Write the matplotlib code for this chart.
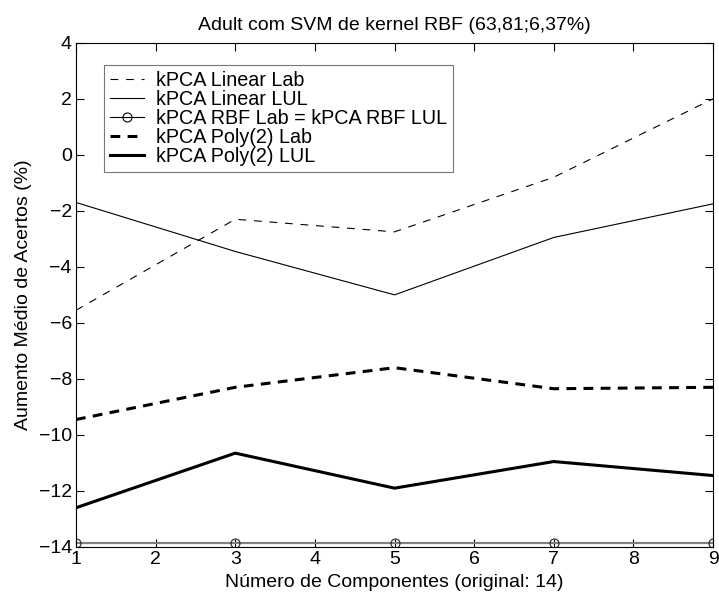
import numpy as np
import matplotlib
matplotlib.use('Agg')
import matplotlib.pyplot as plt
from matplotlib.lines import Line2D

plt.rcParams['font.family'] = ['Liberation Sans', 'DejaVu Sans']

# dados
comps = [1, 3, 5, 7, 9]
linear_lab = [-5.55, -2.3, -2.75, -0.8, 2.0]
linear_lul = [-1.7, -3.45, -5.0, -2.95, -1.75]
rbf = [-13.85, -13.85, -13.85, -13.85, -13.85]
poly_lab = [-9.45, -8.3, -7.6, -8.35, -8.3]
poly_lul = [-12.6, -10.65, -11.9, -10.95, -11.45]

fig = plt.figure(figsize=(7.19, 6.06), dpi=100)
ax = fig.add_axes([0.1057, 0.0974, 0.886, 0.832])

l1, = ax.plot(comps, linear_lab, color='k', linestyle=(0, (7, 7)), linewidth=0.8)
l2, = ax.plot(comps, linear_lul, color='k', linestyle='-', linewidth=0.8)
ax.plot(comps, rbf, color='#808080', linestyle='-', linewidth=1.6, marker='o', markersize=6.5,
        markerfacecolor='none', markeredgecolor='#222222', markeredgewidth=0.8)
l4, = ax.plot(comps, poly_lab, color='k', linestyle=(0, (3.2, 2.4)), linewidth=2.2)
l5, = ax.plot(comps, poly_lul, color='k', linestyle='-', linewidth=2.2)
l3 = Line2D([], [], color='k', linewidth=0.8, marker='o', markersize=6.5,
            markerfacecolor='none', markeredgecolor='k', markeredgewidth=0.8)

ax.set_xlim(1, 9)
ax.set_ylim(-14, 4)
ax.set_xticks(range(1, 10))
ax.set_yticks(range(-14, 5, 2))
ax.set_yticklabels(['\u221214', '\u221212', '\u221210', '\u22128', '\u22126', '\u22124', '\u22122', '0', '2', '4'])
ax.tick_params(direction='in', top=True, right=True, labelsize=14, length=6, width=0.8, pad=3)
for s in ax.spines.values():
    s.set_linewidth(0.8)

ax.set_title('Adult com SVM de kernel RBF (63,81;6,37%)', fontsize=14, pad=9)
ax.set_xlabel('Número de Componentes (original: 14)', fontsize=14, labelpad=4)
ax.set_ylabel('Aumento Médio de Acertos (%)', fontsize=14, labelpad=5)

leg = ax.legend([l1, l2, l3, l4, l5],
                ['kPCA Linear Lab', 'kPCA Linear LUL', 'kPCA RBF Lab = kPCA RBF LUL',
                 'kPCA Poly(2) Lab', 'kPCA Poly(2) LUL'],
                loc='upper left', bbox_to_anchor=(0.044, 0.956), borderaxespad=0,
                fontsize=14.2, frameon=True, fancybox=False, edgecolor='#555555',
                handlelength=1.75, handletextpad=0.6, labelspacing=0.0, borderpad=0.3)
leg.get_frame().set_linewidth(0.8)

fig.savefig('out.png', dpi=100)
